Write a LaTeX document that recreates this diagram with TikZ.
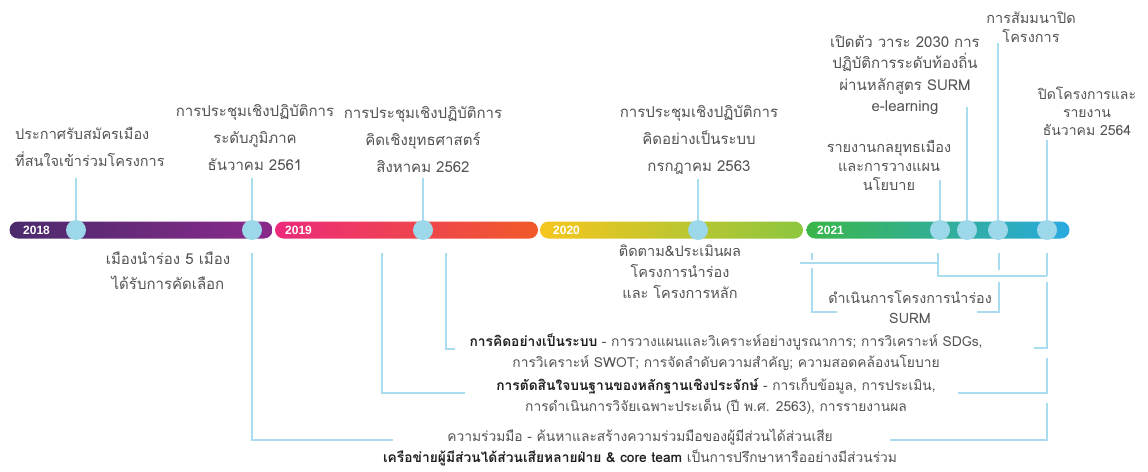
\documentclass[tikz,border=0pt]{standalone}
\usepackage{fontspec}
\setmainfont[Script=Thai]{Loma}
\newfontfamily\yearfont{Liberation Sans}
\usepackage{tikz}

\definecolor{lineblue}{HTML}{A9DCEE}
\definecolor{dotblue}{HTML}{9DD8EA}
\definecolor{txtgray}{HTML}{525252}
\definecolor{txtdark}{HTML}{1E1E1E}
\definecolor{purpA}{HTML}{4B2A6C}
\definecolor{purpB}{HTML}{8A2A8B}
\definecolor{pinkA}{HTML}{EC2B7B}
\definecolor{pinkB}{HTML}{F15A29}
\definecolor{yelA}{HTML}{F6C61E}
\definecolor{yelB}{HTML}{8CC63F}
\definecolor{grnA}{HTML}{3AB54A}
\definecolor{grnB}{HTML}{29A9E0}

\begin{document}
\begin{tikzpicture}
	[
	x=1pt, y=-1pt,
	seg/.style={rectangle, rounded corners=8.5pt, minimum width=263pt, minimum height=17pt, inner sep=0pt},
	year/.style={text=white, anchor=west, inner sep=0pt, font=\yearfont\bfseries\fontsize{12}{13}\selectfont},
	dot/.style={circle, fill=dotblue, minimum size=20pt, inner sep=0pt},
	lbl/.style={align=center, text=txtgray, inner sep=0pt},
	big/.style={font=\fontsize{15}{27}\selectfont},
	small/.style={font=\fontsize{14.5}{19}\selectfont},
	mid/.style={font=\fontsize{13.8}{21}\selectfont},
	conn/.style={draw=lineblue, line width=1.5pt},
	]
		\useasboundingbox (0,0) rectangle (1148,471);

		% timeline bar
		\node[seg, left color=purpA, right color=purpB] (s18) at ( 141.0, 230.0) {};
		\node[seg, left color=pinkA, right color=pinkB] (s19) at ( 406.5, 230.0) {};
		\node[seg, left color=yelA, right color=yelB] (s20) at ( 671.5, 230.0) {};
		\node[seg, left color=grnA, right color=grnB] (s21) at ( 938.0, 230.0) {};
		\node[year] (y18) at ( 23.0, 230.5) {2018};
		\node[year] (y19) at (285.0, 230.5) {2019};
		\node[year] (y20) at (553.0, 230.5) {2020};
		\node[year] (y21) at (817.0, 230.5) {2021};

		% milestones
		\node[dot] (c1) at (  76.0, 230.0) {};
		\node[dot] (c2) at ( 252.0, 230.0) {};
		\node[dot] (c3) at ( 423.0, 230.0) {};
		\node[dot] (c4) at ( 698.0, 230.0) {};
		\node[dot] (c5) at ( 940.0, 230.0) {};
		\node[dot] (c6) at ( 967.0, 230.0) {};
		\node[dot] (c7) at ( 998.0, 230.0) {};
		\node[dot] (c8) at (1047.0, 230.0) {};

		% labels above
		\node[lbl, align=left, anchor=west, font=\fontsize{14.5}{27}\selectfont] (l1) at (15.0, 146.5) {ประกาศรับสมัครเมือง\\ที่สนใจเข้าร่วมโครงการ};
		\node[lbl, big] (l2) at ( 255.0, 138.0) {การประชุมเชิงปฏิบัติการ\\ระดับภูมิภาค\\ธันวาคม 2561};
		\node[lbl, big] (l3) at ( 423.0, 140.0) {การประชุมเชิงปฏิบัติการ\\คิดเชิงยุทธศาสตร์\\สิงหาคม 2562};
		\node[lbl, big] (l4) at ( 699.0, 140.0) {การประชุมเชิงปฏิบัติการ\\คิดอย่างเป็นระบบ\\กรกฎาคม 2563};
		\node[lbl, small] (l5) at ( 889.0, 165.0) {รายงานกลยุทธเมือง\\และการวางแผน\\นโยบาย};
		\node[lbl, font=\fontsize{15}{21.5}\selectfont] (l6) at ( 905.0, 75.0) {เปิดตัว วาระ 2030 การ\\ปฏิบัติการระดับท้องถิ่น\\ผ่านหลักสูตร SURM\\e-learning};
		\node[lbl, small] (l7) at (1031.0, 27.5) {การสัมมนาปิด\\โครงการ};
		\node[lbl, font=\fontsize{14}{18}\selectfont] (l8) at (1087.0, 111.0) {ปิดโครงการและ\\รายงาน\\ธันวาคม 2564};

		% labels below
		\node[lbl, font=\fontsize{15}{25}\selectfont] (b1) at ( 168.0, 270.5) {เมืองนำร่อง 5 เมือง\\ได้รับการคัดเลือก};
		\node[lbl, font=\fontsize{14.5}{21}\selectfont] (b2) at ( 680.0, 272.0) {ติดตาม\&ประเมินผล\\โครงการนำร่อง\\และ โครงการหลัก};
		\node[lbl, font=\fontsize{14.3}{20}\selectfont] (b3) at ( 910.0, 307.0) {ดำเนินการโครงการนำร่อง\\SURM};

		% skills
		\node[lbl, mid] (m1) at ( 726.0, 352.0) {{\color{txtdark}\bfseries การคิดอย่างเป็นระบบ} - การวางแผนและวิเคราะห์อย่างบูรณาการ; การวิเคราะห์ SDGs,\\การวิเคราะห์ SWOT; การจัดลำดับความสำคัญ; ความสอดคล้องนโยบาย};
		\node[lbl, mid] (m2) at ( 716.0, 396.5) {{\color{txtdark}\bfseries การตัดสินใจบนฐานของหลักฐานเชิงประจักษ์} - การเก็บข้อมูล, การประเมิน,\\การดำเนินการวิจัยเฉพาะประเด็น (ปี พ.ศ. 2563), การรายงานผล};
		\node[lbl, mid] (m3) at ( 640.0, 447.5) {ความร่วมมือ - ค้นหาและสร้างความร่วมมือของผู้มีส่วนได้ส่วนเสีย\\{\color{txtdark}\bfseries เครือข่ายผู้มีส่วนได้ส่วนเสียหลายฝ่าย \& core team} เป็นการปรึกษาหารืออย่างมีส่วนร่วม};

		% stems
		\coordinate (t1) at (  76.0, 178.0);
		\coordinate (t2) at ( 252.0, 178.0);
		\coordinate (t3) at ( 423.0, 178.0);
		\coordinate (t4) at ( 698.0, 179.0);
		\coordinate (t5) at ( 940.0, 180.0);
		\coordinate (t6) at ( 967.0, 107.0);
		\coordinate (t7) at ( 998.0,  43.0);
		\coordinate (t8) at (1047.0, 140.0);
		\foreach \from/\to in {t1/c1,t2/c2,t3/c3,t4/c4,t5/c5,t6/c6,t7/c7,t8/c8} \draw[conn] (\from) -- (\to);

		% brackets
		\coordinate (a1) at ( 252.0, 253.0); \coordinate (a2) at ( 393.0, 440.0);
		\coordinate (b1) at ( 382.0, 253.0); \coordinate (b2) at ( 465.0, 393.0);
		\coordinate (e1) at ( 446.0, 253.0); \coordinate (e2) at ( 455.0, 349.0);
		\coordinate (f1) at (1047.0, 403.0); \coordinate (f2) at ( 890.0, 440.0);
		\coordinate (g1) at (1047.0, 358.0); \coordinate (g2) at ( 958.0, 393.0);
		\coordinate (h1) at (1047.0, 282.0); \coordinate (h2) at (1034.0, 348.0);
		\coordinate (q1) at ( 938.0, 253.0); \coordinate (q2) at (1047.0, 276.0);
		\coordinate (r3) at ( 812.0, 268.0); \coordinate (r4) at ( 837.0, 312.0);
		\coordinate (s3) at ( 999.0, 282.0); \coordinate (s4) at ( 977.0, 312.0);
		\foreach \from/\to in {a1/a2,b1/b2,e1/e2,f1/f2,g1/g2,h1/h2,q1/q2,r3/r4,s3/s4} \draw[conn] (\from) |- (\to);

		\coordinate (p1) at ( 800.0, 263.0); \coordinate (p2) at ( 938.0, 263.0);
		\coordinate (q3) at (1047.0, 253.0);
		\coordinate (r1) at ( 812.0, 253.0); \coordinate (r2) at ( 812.0, 260.0);
		\coordinate (s1) at ( 999.0, 253.0); \coordinate (s2) at ( 999.0, 270.0);
		\foreach \from/\to in {p1/p2,q3/q2,r1/r2,s1/s2} \draw[conn] (\from) -- (\to);

	\end{tikzpicture}
\end{document}
